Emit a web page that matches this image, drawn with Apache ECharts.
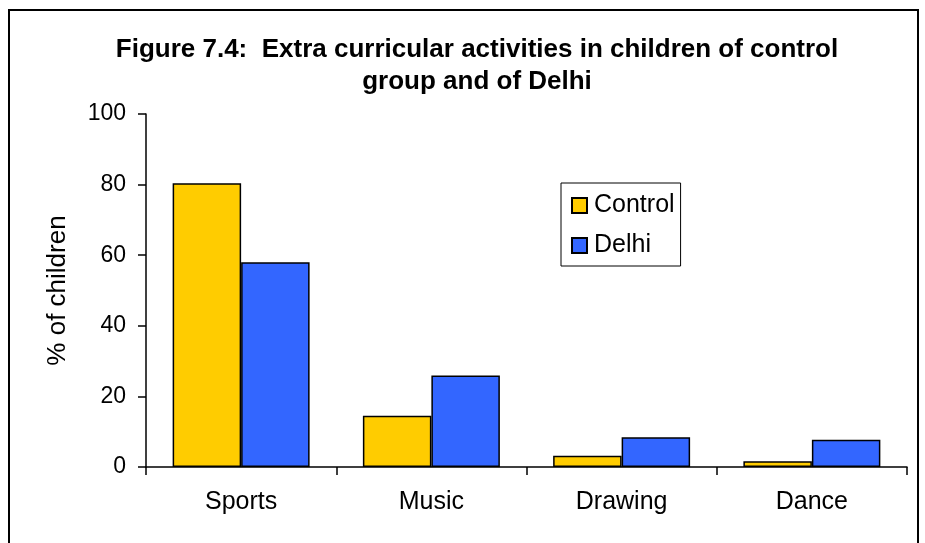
<!DOCTYPE html>
<html>
<head>
<meta charset="utf-8">
<script src="https://cdn.jsdelivr.net/npm/echarts@6/dist/echarts.min.js"></script>
<style>
  html, body { margin: 0; padding: 0; background: #fff; }
  #chart { width: 925px; height: 543px; }
</style>
</head>
<body>
<div id="chart"></div>
<script>
var categories = ['Sports', 'Music', 'Drawing', 'Dance']
var controlValues = [80.4, 14.5, 3.2, 1.6]
var delhiValues = [58, 25.9, 8.4, 7.7]
var yTicks = [0, 20, 40, 60, 80, 100]

var font = 'Liberation Sans, Arial, sans-serif'
var myChart = echarts.init(document.getElementById('chart'))

var option = {
    backgroundColor: '#fff',
    animation: false,
    textStyle: { fontFamily: font },
    graphic: [
        {
            type: 'rect',
            shape: { x: 9, y: 10, width: 909, height: 600 },
            style: { fill: 'none', stroke: '#000', lineWidth: 2 },
            silent: true
        }
    ],
    title: {
        text: 'Figure 7.4:  Extra curricular activities in children of control\ngroup and of Delhi',
        left: 472,
        top: 29,
        textAlign: 'center',
        textStyle: {
            fontFamily: font,
            fontSize: 26,
            fontWeight: 'bold',
            color: '#000',
            lineHeight: 32
        }
    },
    legend: {
        orient: 'vertical',
        left: 561,
        top: 183,
        itemWidth: 15,
        itemHeight: 15,
        itemGap: 15,
        padding: [10, 6, 8, 10],
        borderColor: '#000',
        borderWidth: 1,
        backgroundColor: '#fff',
        icon: 'rect',
        textStyle: {
            fontFamily: font,
            fontSize: 25,
            color: '#000',
            lineHeight: 25,
            padding: [0, 0, 0, 2]
        },
        data: ['Control', 'Delhi']
    },
    grid: {
        left: 146,
        right: 18,
        top: 114,
        bottom: 76
    },
    xAxis: {
        type: 'category',
        data: categories,
        axisLine: { lineStyle: { color: '#000', width: 1.5 } },
        axisTick: { show: true, length: 8, lineStyle: { color: '#000', width: 1.5 } },
        axisLabel: { fontFamily: font, fontSize: 25, color: '#000', margin: 23 }
    },
    yAxis: {
        type: 'value',
        min: yTicks[0],
        max: yTicks[yTicks.length - 1],
        interval: 20,
        name: '% of children',
        nameLocation: 'middle',
        nameGap: 75,
        nameRotate: 90,
        nameTextStyle: { fontFamily: font, fontSize: 26, color: '#000' },
        axisLine: { show: true, lineStyle: { color: '#000', width: 1.5 } },
        axisTick: { show: true, length: 8, lineStyle: { color: '#000', width: 1.5 } },
        axisLabel: { fontFamily: font, fontSize: 23, color: '#000', margin: 20 },
        splitLine: { show: false }
    },
    series: [
        {
            name: 'Control',
            type: 'bar',
            barGap: '0%',
            barCategoryGap: '28%',
            itemStyle: { color: '#FFCC00', borderColor: '#000', borderWidth: 1.5 },
            data: controlValues
        },
        {
            name: 'Delhi',
            type: 'bar',
            barGap: '0%',
            barCategoryGap: '28%',
            itemStyle: { color: '#3366FF', borderColor: '#000', borderWidth: 1.5 },
            data: delhiValues
        }
    ]
}

myChart.setOption(option)
window.addEventListener('resize', function() {
    myChart.resize()
})
</script>
</body>
</html>
